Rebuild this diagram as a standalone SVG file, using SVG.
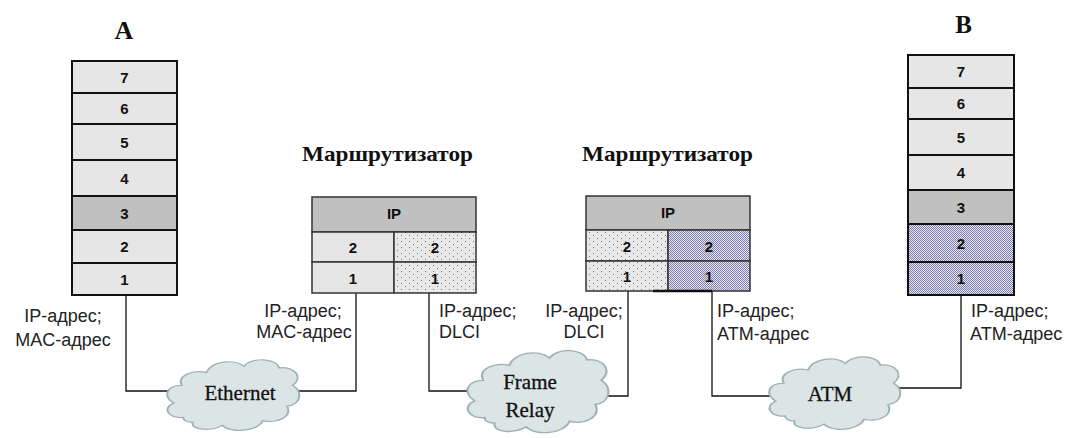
<svg xmlns="http://www.w3.org/2000/svg" width="1072" height="438" viewBox="0 0 1072 438">
  <style>
    .cell { fill: #e6e6e6; stroke: #111; stroke-width: 2; }
    .l3 { fill: #c0c0c0; }
    .meshfill { fill: url(#mesh); }
    .rcell { stroke: #333; stroke-width: 1.5; }
    .num { font-family: "Liberation Sans", Arial, sans-serif; font-weight: bold; font-size: 15px; fill: #111; text-anchor: middle; }
    .title { font-family: "Liberation Serif", "Times New Roman", serif; font-weight: bold; fill: #111; text-anchor: middle; }
    .addr { font-family: "Liberation Sans", Arial, sans-serif; font-size: 18px; fill: #222; }
    .mid { text-anchor: middle; }
    .net { font-family: "Liberation Serif", "Times New Roman", serif; font-size: 21px; fill: #111; text-anchor: middle; stroke: #111; stroke-width: 0.3; }
    .wire { fill: none; stroke: #111; stroke-width: 1.3; }
    .cloud { fill: #dbe5e5; stroke: #9fb2b2; stroke-width: 1.5; }
  </style>
  <defs>
    <!-- sparse dot fill -->
    <pattern id="dots" width="8" height="6" patternUnits="userSpaceOnUse">
      <rect width="8" height="6" fill="#e8e8e8"/>
      <rect x="1" y="1" width="1" height="1" fill="#777"/>
      <rect x="5" y="4" width="1" height="1" fill="#777"/>
    </pattern>
    <!-- dense blue checker fill -->
    <pattern id="mesh" width="2" height="2" patternUnits="userSpaceOnUse">
      <rect width="2" height="2" fill="#e6e6f2"/>
      <rect width="1" height="1" fill="#7e7eaa"/>
      <rect x="1" y="1" width="1" height="1" fill="#7e7eaa"/>
    </pattern>
    <!-- cloud outline in a 100 x 100 box -->
    <path id="cloud" d="M15,78 C4,80 -1,66 8,60 C0,52 2,38 14,38 C10,26 22,18 32,22 C36,8 52,4 60,14 C66,2 84,4 86,16 C98,14 104,28 96,38 C104,46 102,62 92,64 C96,78 84,86 74,82 C70,96 50,98 44,88 C36,96 20,94 22,84 C18,84 15,82 15,78 Z"/>
  </defs>

  <!-- connectors between the stacks and the networks -->
  <g id="connectors">
    <polyline class="wire" points="126,295 126,391 185,391"/>
    <polyline class="wire" points="356,293 356,391 290,391"/>
    <polyline class="wire" points="429,293 429,391 475,391"/>
    <polyline class="wire" points="628,291 628,396 595,396"/>
    <polyline class="wire" points="712,291 712,396 775,396"/>
    <polyline class="wire" points="961,295 961,388 890,388"/>
  </g>

  <!-- end system A -->
  <g id="host-a">
    <text class="title" x="124" y="39" font-size="26">A</text>
    <rect class="cell" x="72" y="61" width="105" height="32"/>
    <rect class="cell" x="72" y="93" width="105" height="31"/>
    <rect class="cell" x="72" y="124" width="105" height="36"/>
    <rect class="cell" x="72" y="160" width="105" height="36"/>
    <rect class="cell l3" x="72" y="196" width="105" height="34"/>
    <rect class="cell" x="72" y="230" width="105" height="33"/>
    <rect class="cell" x="72" y="263" width="105" height="32"/>
    <text class="num" x="124.5" y="82.5">7</text>
    <text class="num" x="124.5" y="114">6</text>
    <text class="num" x="124.5" y="147.5">5</text>
    <text class="num" x="124.5" y="183.5">4</text>
    <text class="num" x="124.5" y="218.5">3</text>
    <text class="num" x="124.5" y="252">2</text>
    <text class="num" x="124.5" y="284.5">1</text>
    <text class="addr mid" x="63" y="322">IP-адрес;</text>
    <text class="addr mid" x="63" y="346">MAC-адрес</text>
  </g>

  <!-- first router -->
  <g id="router-1">
    <text class="title" x="387.5" y="161" font-size="22" textLength="171" lengthAdjust="spacingAndGlyphs">Маршрутизатор</text>
    <rect class="rcell" x="312" y="197" width="164" height="35" fill="#c0c0c0"/>
    <rect class="rcell" x="312" y="232" width="82" height="30" fill="#e6e6e6"/>
    <rect class="rcell" x="312" y="262" width="82" height="31" fill="#e6e6e6"/>
    <rect class="rcell" x="394" y="232" width="82" height="30" fill="url(#dots)"/>
    <rect class="rcell" x="394" y="262" width="82" height="31" fill="url(#dots)"/>
    <text class="num" x="394" y="219" font-size="16">IP</text>
    <text class="num" x="353" y="253" font-size="16">2</text>
    <text class="num" x="353" y="283.5" font-size="16">1</text>
    <text class="num" x="435" y="253" font-size="16">2</text>
    <text class="num" x="435" y="283.5" font-size="16">1</text>
    <text class="addr mid" x="303" y="317">IP-адрес;</text>
    <text class="addr mid" x="304" y="338">MAC-адрес</text>
    <text class="addr" x="439" y="317">IP-адрес;</text>
    <text class="addr" x="439" y="338">DLCI</text>
  </g>

  <!-- second router -->
  <g id="router-2">
    <text class="title" x="667.5" y="161" font-size="22" textLength="171" lengthAdjust="spacingAndGlyphs">Маршрутизатор</text>
    <rect class="rcell" x="586" y="196" width="164" height="34" fill="#c0c0c0"/>
    <rect class="rcell" x="586" y="230" width="82" height="31" fill="url(#dots)"/>
    <rect class="rcell" x="586" y="261" width="82" height="30" fill="url(#dots)"/>
    <rect class="rcell" x="668" y="230" width="82" height="31" fill="url(#mesh)"/>
    <rect class="rcell" x="668" y="261" width="82" height="30" fill="url(#mesh)"/>
    <line x1="653" y1="291" x2="712" y2="291" stroke="#111" stroke-width="2.5"/>
    <text class="num" x="668" y="218" font-size="16">IP</text>
    <text class="num" x="627" y="251.5" font-size="16">2</text>
    <text class="num" x="627" y="282" font-size="16">1</text>
    <text class="num" x="709" y="251.5" font-size="16">2</text>
    <text class="num" x="709" y="282" font-size="16">1</text>
    <text class="addr mid" x="584" y="317">IP-адрес;</text>
    <text class="addr mid" x="584" y="338">DLCI</text>
    <text class="addr" x="717" y="317">IP-адрес;</text>
    <text class="addr" x="717" y="340">ATM-адрес</text>
  </g>

  <!-- end system B -->
  <g id="host-b">
    <text class="title" x="963.5" y="33" font-size="25">B</text>
    <rect class="cell" x="908" y="55" width="106" height="33"/>
    <rect class="cell" x="908" y="88" width="106" height="31"/>
    <rect class="cell" x="908" y="119" width="106" height="36"/>
    <rect class="cell" x="908" y="155" width="106" height="35"/>
    <rect class="cell l3" x="908" y="190" width="106" height="34"/>
    <rect class="cell meshfill" x="908" y="224" width="106" height="38"/>
    <rect class="cell meshfill" x="908" y="262" width="106" height="33"/>
    <text class="num" x="961" y="77">7</text>
    <text class="num" x="961" y="109">6</text>
    <text class="num" x="961" y="142.5">5</text>
    <text class="num" x="961" y="178">4</text>
    <text class="num" x="961" y="212.5">3</text>
    <text class="num" x="961" y="248.5">2</text>
    <text class="num" x="961" y="284">1</text>
    <text class="addr" x="971" y="317">IP-адрес;</text>
    <text class="addr" x="970" y="340">ATM-адрес</text>
  </g>

  <!-- networks -->
  <g id="cloud-ethernet">
    <use href="#cloud" class="cloud" vector-effect="non-scaling-stroke" transform="translate(163,355) scale(1.35,0.8)"/>
    <text class="net" x="240" y="400">Ethernet</text>
  </g>
  <g id="cloud-frame-relay">
    <use href="#cloud" class="cloud" vector-effect="non-scaling-stroke" transform="translate(463,345) scale(1.44,0.93)"/>
    <text class="net" x="530" y="389">Frame</text>
    <text class="net" x="530" y="417">Relay</text>
  </g>
  <g id="cloud-atm">
    <use href="#cloud" class="cloud" vector-effect="non-scaling-stroke" transform="translate(765,352) scale(1.34,0.82)"/>
    <text class="net" x="830" y="401">ATM</text>
  </g>
</svg>
